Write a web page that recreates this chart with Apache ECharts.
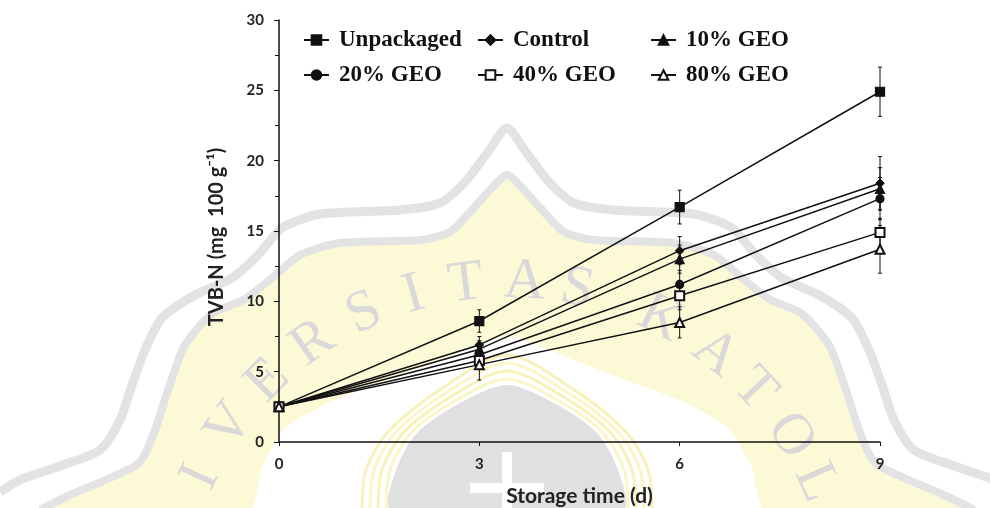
<!DOCTYPE html>
<html><head><meta charset="utf-8">
<script src="https://cdn.jsdelivr.net/npm/echarts@6/dist/echarts.min.js"></script>
<style>html,body{margin:0;padding:0;background:#fff}#c{width:990px;height:508px}</style>
</head><body><div id="c"></div>
<script>
// ---- data ----
const days = [0, 3, 6, 9];
const seriesNames = ['Unpackaged', 'Control', '10% GEO', '20% GEO', '40% GEO', '80% GEO'];
const unpackaged = [2.5, 8.6, 16.7, 24.9];
const control    = [2.5, 6.9, 13.6, 18.4];
const geo10      = [2.5, 6.6, 13.0, 18.0];
const geo20      = [2.5, 6.2, 11.2, 17.3];
const geo40      = [2.5, 5.8, 10.4, 14.9];
const geo80      = [2.5, 5.5, 8.5, 13.7];
const unpackagedErr = [0.2, 0.8, 1.2, 1.75];
const controlErr    = [0.2, 0.6, 1.0, 1.9];
const geo10Err      = [0.2, 0.6, 1.0, 1.5];
const geo20Err      = [0.2, 0.6, 1.0, 1.5];
const geo40Err      = [0.2, 0.6, 1.0, 1.0];
const geo80Err      = [0.2, 1.1, 1.1, 1.7];
const yMin = 0, yMax = 30, yInterval = 5;
const xMin = 0, xMax = 9, xInterval = 3;
const xTitle = 'Storage time (d)';
const yTitle = 'TVB-N (mg  100 g\u207B\u00B9)';
const watermarkText = 'UNIVERSITAS KATOLIK';

const values = [unpackaged, control, geo10, geo20, geo40, geo80];
const errs = [unpackagedErr, controlErr, geo10Err, geo20Err, geo40Err, geo80Err];
const symbols = ['rect', 'diamond', 'triangle', 'circle', 'emptyRect', 'emptyTriangle'];
const symbolSizes = [9, 8, 9, 8, 9, 9];

// ---- watermark (decorative background) ----
function mirror(pts) {
  return pts.concat(pts.slice(0, -1).reverse().map(p => [1014 - p[0], p[1]]));
}
const outerLeft = [[0,492],[20,480],[60,466],[100,450],[120,420],[132,385],[145,350],[162,318],[195,295],[232,278],[258,255],[282,228],[320,214],[400,210],[440,203],[465,182],[488,152],[507,128]];
const innerLeft = [[40,510],[70,495],[110,478],[140,462],[155,430],[168,390],[185,345],[212,314],[245,299],[272,278],[300,255],[340,243],[420,240],[450,232],[470,212],[490,190],[507,175]];
const edgeLeft = [[250,510],[262,468],[285,428],[330,402],[410,372],[470,348],[507,336]];
const outerPts = mirror(outerLeft), innerPts = mirror(innerLeft), edgePts = mirror(edgeLeft);
const yellowPoly = innerPts.concat(edgePts.slice().reverse());
function archPts(d) {
  return [[392 - d, 510], [396 - d, 470], [418 - d, 432], [462 - d * 0.6, 402 - d * 0.5], [507, 385 - d],
          [552 + d * 0.6, 402 - d * 0.5], [596 + d, 432], [618 + d, 470], [622 + d, 510]];
}
const wm = [];
wm.push({type: 'polygon', shape: {points: yellowPoly, smooth: 0.15}, style: {fill: '#fcf9d6'}, z: -10, silent: true});
wm.push({type: 'polyline', shape: {points: outerPts, smooth: 0.25}, style: {stroke: '#e3e3e3', lineWidth: 9, fill: null}, z: -9, silent: true});
wm.push({type: 'polyline', shape: {points: innerPts, smooth: 0.25}, style: {stroke: '#e3e3e3', lineWidth: 8, fill: null}, z: -9, silent: true});
[30, 22, 14, 6].forEach((d, i) => {
  wm.push({type: 'polyline', shape: {points: archPts(d), smooth: 0.3}, style: {stroke: i % 2 ? '#fbf6c8' : '#f8f1b8', lineWidth: 3, fill: null}, z: -9, silent: true});
});
wm.push({type: 'polygon', shape: {points: archPts(0), smooth: 0.3}, style: {fill: '#e0e0e0'}, z: -9, silent: true});
wm.push({type: 'rect', shape: {x: 502, y: 452, width: 10, height: 60}, style: {fill: '#ffffff'}, z: -8, silent: true});
wm.push({type: 'rect', shape: {x: 470, y: 483, width: 74, height: 10}, style: {fill: '#ffffff'}, z: -8, silent: true});
const angles = [-85, -75, -65, -55, -45, -35, -25, -16, -7, 3, 12, null, 27, 38, 47, 57, 66, 75, 84];
watermarkText.split('').forEach((ch, i) => {
  const a = angles[i];
  if (a === null || ch === ' ') return;
  const r = a * Math.PI / 180;
  wm.push({type: 'text', x: 507 + 338 * Math.sin(r), y: 620 - 338 * Math.cos(r), rotation: -r,
    style: {text: ch, font: 'normal 58px "Liberation Serif"', fill: '#d9d9d9', align: 'center', verticalAlign: 'middle'},
    z: -8, silent: true});
});
// y-axis title
wm.push({type: 'text', x: 217, y: 237, rotation: Math.PI / 2,
  style: {text: yTitle, font: 'bold 20px Lato', fill: '#222', align: 'center', verticalAlign: 'middle'}, z: 5});

// ---- series ----
const series = [];
values.forEach((v, k) => {
  series.push({
    type: 'custom', name: seriesNames[k] + ' err', z: 3, silent: true,
    data: days.map((d, i) => [d, v[i] - errs[k][i], v[i] + errs[k][i]]),
    renderItem: function (params, api) {
      const x = api.value(0);
      const lo = api.coord([x, api.value(1)]);
      const hi = api.coord([x, api.value(2)]);
      const st = {stroke: '#111', lineWidth: 1};
      return {type: 'group', children: [
        {type: 'line', shape: {x1: hi[0], y1: hi[1], x2: lo[0], y2: lo[1]}, style: st},
        {type: 'line', shape: {x1: hi[0] - 2, y1: hi[1], x2: hi[0] + 2, y2: hi[1]}, style: st},
        {type: 'line', shape: {x1: lo[0] - 2, y1: lo[1], x2: lo[0] + 2, y2: lo[1]}, style: st}
      ]};
    }
  });
});
values.forEach((v, k) => {
  series.push({
    type: 'line', name: seriesNames[k], z: 4,
    data: days.map((d, i) => [d, v[i]]),
    symbol: symbols[k], symbolSize: symbolSizes[k], showSymbol: true,
    lineStyle: {color: '#111', width: 1.5},
    itemStyle: {color: '#111', borderColor: '#111', borderWidth: 1.2},
    emphasis: {disabled: true}
  });
});

const legendText = {fontFamily: '"Liberation Serif"', fontWeight: 'bold', fontSize: 23, color: '#111', lineHeight: 24, padding: [0, 0, 0, 5]};
function legendCol(names, left) {
  return {data: names, left: left, top: 28, orient: 'vertical', itemWidth: 25, itemHeight: 12, itemGap: 11,
    textStyle: legendText, selectedMode: false, padding: 0};
}

const option = {
  animation: false,
  backgroundColor: '#fff',
  grid: {left: 279, right: 110, top: 20, bottom: 66, outerBoundsMode: 'none', containLabel: false},
  graphic: {elements: wm},
  legend: [
    legendCol([seriesNames[0], seriesNames[3]], 303),
    legendCol([seriesNames[1], seriesNames[4]], 477),
    legendCol([seriesNames[2], seriesNames[5]], 650)
  ],
  xAxis: {
    type: 'value', min: xMin, max: xMax, interval: xInterval,
    axisLine: {lineStyle: {color: '#111', width: 1.5}},
    axisTick: {show: true, length: 4, lineStyle: {color: '#111'}},
    axisLabel: {margin: 15, fontFamily: 'Lato', fontWeight: 'bold', fontSize: 15, color: '#222'},
    splitLine: {show: false},
    name: xTitle, nameLocation: 'middle', nameGap: 44,
    nameTextStyle: {fontFamily: 'Lato', fontWeight: 'bold', fontSize: 21, color: '#222'}
  },
  yAxis: {
    type: 'value', min: yMin, max: yMax, interval: yInterval,
    axisLine: {show: true, lineStyle: {color: '#111', width: 1.5}},
    axisTick: {show: true, length: 5, lineStyle: {color: '#111'}},
    minorTick: {show: true, splitNumber: 2, length: 4, lineStyle: {color: '#111'}},
    axisLabel: {margin: 15, fontFamily: 'Lato', fontWeight: 'bold', fontSize: 15, color: '#222'},
    splitLine: {show: false}
  },
  series: series
};
const chart = echarts.init(document.getElementById('c'));
chart.setOption(option);
</script>
</body></html>
